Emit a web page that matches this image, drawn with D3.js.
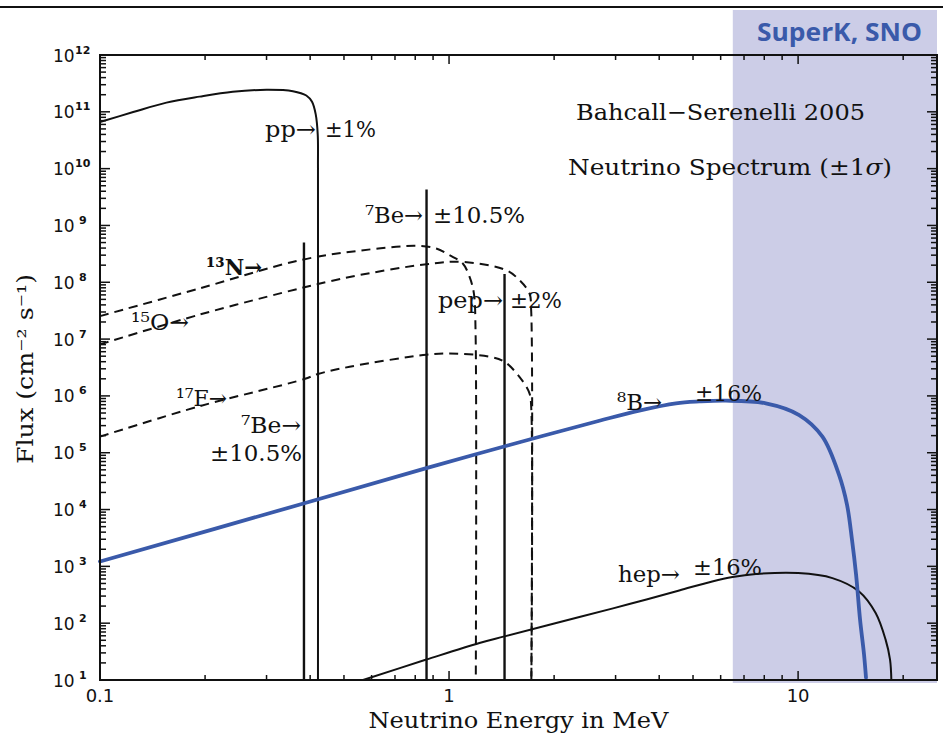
<!DOCTYPE html>
<html>
<head>
<meta charset="utf-8">
<script src="https://cdn.jsdelivr.net/npm/d3@7"></script>
<style>
  body { margin: 0; background: #fff; }
  svg { display: block; }
</style>
</head>
<body>
<svg id="chart" width="943" height="744"></svg>
<script>
// Solar neutrino spectrum, standard solar model (Bahcall-Serenelli 2005).
// Energies in MeV; continuum fluxes per MeV, line fluxes in cm^-2 s^-1.
const ppSpectrum = [[0.1,6.6e10],[0.1245,9.9e10],[0.155,1.45e11],[0.193,1.85e11],[0.24,2.25e11],
  [0.30,2.44e11],[0.357,2.31e11],[0.39,1.94e11],[0.405,1.5e11],[0.415,9e10],[0.4205,4e10],
  [0.4212,1e10],[0.4212,10]];
const n13Spectrum = [[0.1,2.54e7],[0.193,7.8e7],[0.3735,2.44e8],[0.5545,3.6e8],[0.8055,4.37e8],
  [0.919,3.93e8],[1.003,3.0e8],[1.095,2.14e8],[1.145,1.24e8],[1.178,6.4e7],[1.191,1.4e7],[1.193,10]];
const o15Spectrum = [[0.1,8.07e6],[0.193,2.7e7],[0.3735,7.8e7],[0.4212,9.3e7],[0.519,1.24e8],
  [0.861,2.08e8],[1.095,2.28e8],[1.458,1.63e8],[1.591,1.09e8],[1.70,6.35e7],[1.719,3.2e7],[1.721,10]];
const f17Spectrum = [[0.1,1.92e5],[0.193,6.6e5],[0.385,1.98e6],[0.4212,2.43e6],[0.519,3.26e6],
  [0.861,5.3e6],[1.003,5.6e6],[1.306,4.9e6],[1.441,3.99e6],[1.591,2.17e6],[1.70,1.11e6],
  [1.719,6.5e5],[1.721,10]];
const b8Spectrum = [[0.1,1.22e3],[0.385,1.29e4],[0.861,5.35e4],[1.49,1.37e5],[2.696,3.66e5],
  [3.508,5.53e5],[4.467,7.41e5],[5.21,7.98e5],[6.21,8.24e5],[8.08,7.41e5],[10.07,4.61e5],
  [11.74,1.92e5],[13.1,4.07e4],[13.81,1.21e4],[14.27,2.93e3],[14.66,711],[15.05,115],
  [15.45,27.9],[15.65,11]];
const hepSpectrum = [[0.567,10],[0.861,22.9],[1.222,44.9],[1.441,58.6],[2.363,128.6],[3.285,217],
  [4.565,377],[5.675,543],[6.49,649],[7.57,733],[10.0,762],[12.54,622],[14.95,362],[16.68,151],
  [17.81,51.3],[18.34,22.9],[18.5,10]];

// Monoenergetic lines: energy (MeV) and flux
const lineNames  = ["7Be (0.384)", "7Be (0.862)", "pep"];
const lineEnergy = [0.384, 0.862, 1.442];
const lineFlux   = [5.0e8, 4.3e9, 1.4e8];

// Detection threshold of the water Cherenkov experiments (MeV)
const superKThreshold = 6.5;

// Axis tick labels
const xTickValues = [0.1, 1, 10];
const xTickLabels = ["0.1", "1", "10"];
const yTickExponents = [1,2,3,4,5,6,7,8,9,10,11,12];

// Text annotations (left edge and baseline in pixels, fitted width)
const annotations = [
  {text:"pp\u2192", x:265, y:137, w:51},
  {text:"\u00b11%", x:325, y:137, w:51},
  {text:"\u2077Be\u2192", x:365, y:223, w:58},
  {text:"\u00b110.5%", x:433, y:223, w:92},
  {text:"\u00b9\u00b3N\u2192", x:206, y:275, w:56, bold:true},
  {text:"\u00b9\u2075O\u2192", x:131, y:330, w:58},
  {text:"\u00b9\u2077F\u2192", x:176, y:406, w:51},
  {text:"\u2077Be\u2192", x:241, y:433, w:60},
  {text:"\u00b110.5%", x:210, y:461, w:92},
  {text:"pep\u2192", x:438, y:308, w:65},
  {text:"\u00b12%", x:510, y:308, w:52},
  {text:"\u2078B\u2192", x:617, y:410, w:45},
  {text:"\u00b116%", x:695, y:401, w:67},
  {text:"hep\u2192", x:618, y:582, w:62},
  {text:"\u00b116%", x:693, y:575, w:69},
  {text:"Bahcall\u2212Serenelli 2005", x:576, y:120, w:289}
];

const svg = d3.select("#chart");
const margin = {left: 100, right: 937, top: 55, bottom: 680};

const x = d3.scaleLog().domain([0.1, 25]).range([margin.left, margin.right]);
const y = d3.scaleLog().domain([10, 1e12]).range([margin.bottom, margin.top]);

const serif = "'DejaVu Serif', serif";
const sans = "'DejaVu Sans', sans-serif";
const blue = "#3a5aaa";

// Rule across the top of the page
svg.append("line").attr("x1", 0).attr("x2", 943).attr("y1", 7).attr("y2", 7)
  .attr("stroke", "#111").attr("stroke-width", 2);

// Shaded band: energy range seen by SuperK and SNO
svg.append("rect")
  .attr("x", x(superKThreshold)).attr("y", 10)
  .attr("width", x(25) - x(superKThreshold)).attr("height", 673)
  .attr("fill", "#cccde7");
svg.append("text")
  .attr("x", 922).attr("y", 41).attr("text-anchor", "end")
  .attr("font-family", "'Open Sans', sans-serif").attr("font-weight", "bold")
  .attr("font-size", 25).attr("fill", blue)
  .attr("textLength", 165).attr("lengthAdjust", "spacingAndGlyphs")
  .text("SuperK, SNO");

// Curves
const line = d3.line()
  .x(d => x(d[0])).y(d => y(d[1]))
  .curve(d3.curveCatmullRom.alpha(0.5));

const plot = svg.append("g");
const solid = [ppSpectrum, hepSpectrum, b8Spectrum];
const dashed = [n13Spectrum, o15Spectrum, f17Spectrum];

dashed.forEach(s => plot.append("path").attr("d", line(s))
  .attr("fill", "none").attr("stroke", "#111").attr("stroke-width", 2)
  .attr("stroke-dasharray", "9,6"));

solid.forEach(s => plot.append("path").attr("d", line(s))
  .attr("fill", "none").attr("stroke", "#111").attr("stroke-width", 2));

// Monoenergetic lines
lineEnergy.forEach((e, i) => plot.append("line")
  .attr("class", "line-" + lineNames[i].replace(/\W+/g, ""))
  .attr("x1", x(e)).attr("x2", x(e))
  .attr("y1", y(lineFlux[i])).attr("y2", y(10))
  .attr("stroke", "#111").attr("stroke-width", 2.4));

// 8B spectrum highlighted in blue
plot.append("path").attr("d", line(b8Spectrum))
  .attr("fill", "none").attr("stroke", blue).attr("stroke-width", 3.8)
  .attr("stroke-linecap", "round");

// Frame and ticks
svg.append("rect")
  .attr("x", margin.left).attr("y", margin.top)
  .attr("width", margin.right - margin.left).attr("height", margin.bottom - margin.top)
  .attr("fill", "none").attr("stroke", "#111").attr("stroke-width", 2);

const isDecade = v => Math.abs(Math.log10(v) - Math.round(Math.log10(v))) < 1e-9;
const xt = x.ticks();
const ticks = svg.append("g").attr("stroke", "#111").attr("stroke-width", 1.5);
xt.forEach(v => {
  const len = isDecade(v) ? 9 : 5;
  ticks.append("line").attr("x1", x(v)).attr("x2", x(v)).attr("y1", margin.bottom).attr("y2", margin.bottom - len);
  ticks.append("line").attr("x1", x(v)).attr("x2", x(v)).attr("y1", margin.top).attr("y2", margin.top + len);
});
const yt = [];
for (let e = 1; e <= 11; e++) for (let k = 1; k <= 9; k++) yt.push(k * Math.pow(10, e));
yt.push(1e12);
yt.forEach(v => {
  const len = isDecade(v) ? 10 : 6;
  ticks.append("line").attr("y1", y(v)).attr("y2", y(v)).attr("x1", margin.left).attr("x2", margin.left + len);
  ticks.append("line").attr("y1", y(v)).attr("y2", y(v)).attr("x1", margin.right).attr("x2", margin.right - len);
});

// Tick labels
xTickValues.forEach((v, i) => svg.append("text")
  .attr("x", x(v)).attr("y", 702).attr("text-anchor", "middle")
  .attr("font-family", sans).attr("font-size", 18).attr("fill", "#111")
  .text(xTickLabels[i]));

yTickExponents.forEach(e => {
  const ty = y(Math.pow(10, e));
  svg.append("text").attr("x", 53).attr("y", ty + 6.5)
    .attr("font-family", sans).attr("font-size", 17).attr("fill", "#111").text("10");
  svg.append("text").attr("x", e >= 10 ? 75 : 79).attr("y", ty - 1.5)
    .attr("font-family", sans).attr("font-weight", "bold").attr("font-size", 11).attr("fill", "#111")
    .text(String(e));
});

// Axis titles
svg.append("text")
  .attr("x", (margin.left + margin.right) / 2).attr("y", 728).attr("text-anchor", "middle")
  .attr("font-family", serif).attr("font-size", 22).attr("fill", "#111")
  .attr("textLength", 300).attr("lengthAdjust", "spacingAndGlyphs")
  .text("Neutrino Energy in MeV");

svg.append("text")
  .attr("transform", "translate(33,369) rotate(-90)").attr("text-anchor", "middle")
  .attr("font-family", serif).attr("font-size", 22).attr("fill", "#111")
  .attr("textLength", 190).attr("lengthAdjust", "spacingAndGlyphs")
  .text("Flux (cm\u207b\u00b2 s\u207b\u00b9)");

// Annotations
annotations.forEach(a => svg.append("text")
  .attr("x", a.x).attr("y", a.y)
  .attr("font-family", serif).attr("font-size", 23).attr("fill", "#111")
  .attr("font-weight", a.bold ? "bold" : "normal")
  .attr("textLength", a.w).attr("lengthAdjust", "spacingAndGlyphs")
  .text(a.text));

const spec = svg.append("text")
  .attr("x", 568).attr("y", 175)
  .attr("font-family", serif).attr("font-size", 23).attr("fill", "#111")
  .attr("textLength", 324).attr("lengthAdjust", "spacingAndGlyphs");
spec.append("tspan").text("Neutrino Spectrum (\u00b11");
spec.append("tspan").attr("font-style", "italic").text("\u03c3");
spec.append("tspan").text(")");
</script>
</body>
</html>
